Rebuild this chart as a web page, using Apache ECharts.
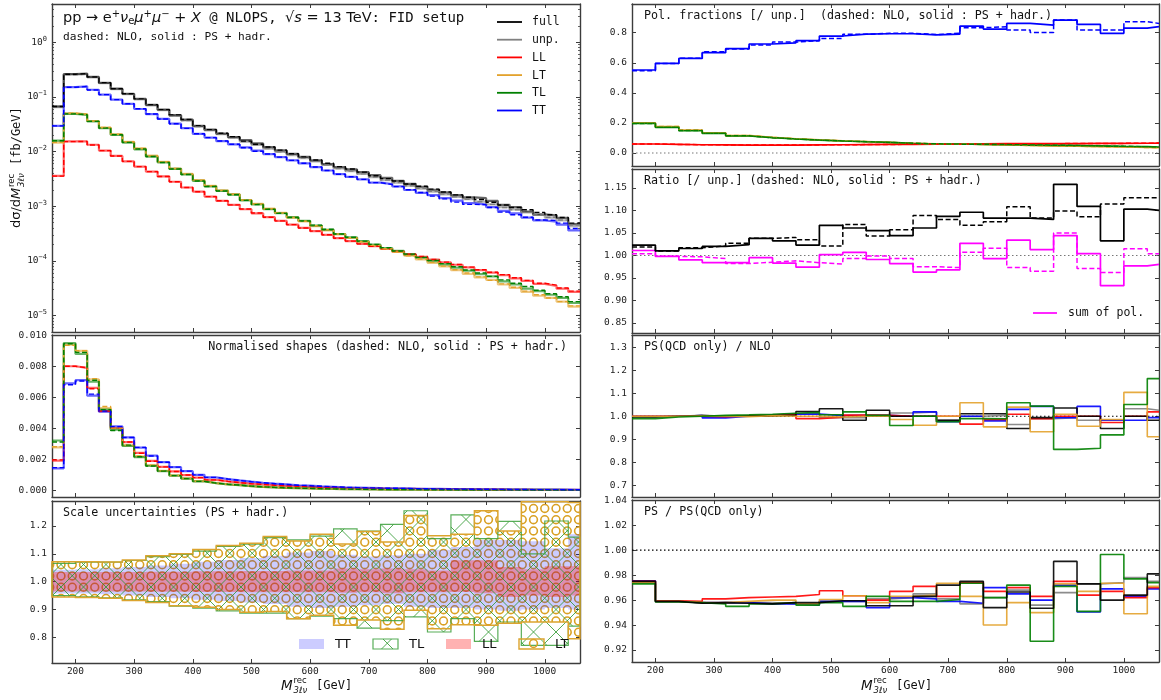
<!DOCTYPE html>
<html><head><meta charset="utf-8">
<script src="https://cdn.jsdelivr.net/npm/echarts@6/dist/echarts.min.js"></script>
<style>html,body{margin:0;padding:0;background:#fff}#c{width:1161px;height:700px}</style>
</head><body><div id="c"></div><script>
// ---------------- DATA ----------------
const fineEdges = [160,180,200,220,240,260,280,300,320,340,360,380,400,420,440,460,480,500,520,540,560,580,600,620,640,660,680,700,720,740,760,780,800,820,840,860,880,900,920,940,960,980,1000,1020,1040,1060];
const coarseEdges = [160,200,240,280,320,360,400,440,480,520,560,600,640,680,720,760,800,840,880,920,960,1000,1040,1060];
const xTicks = [200,300,400,500,600,700,800,900,1000];

// top-left: dsigma/dM (fb/GeV), solid = PS+hadr, nlo = dashed
const full = [0.067,0.262,0.267,0.232,0.181,0.141,0.114,0.092,0.0715, 0.0585,0.0465,0.0385,0.0295,0.0251,0.0213,0.0184,0.0162,0.0141, 0.0120,0.0105,0.0091,0.0080,0.0069,0.0059,0.0052,0.0047,0.0042, 0.0037,0.0033,0.00292,0.00257,0.00227,0.0020,0.00179,0.0016,0.00145, 0.0014,0.00125,0.00106,0.00096,0.0008,0.00071,0.00068,0.00061,0.00047];
const nloFull = [0.0665,0.260,0.266,0.231,0.181,0.1405,0.114,0.092,0.072, 0.0585,0.0468,0.0385,0.0298,0.0252,0.0216,0.0186,0.0155,0.0136, 0.0121,0.0106,0.0091,0.0080,0.0070,0.0061,0.0053,0.0048,0.0042, 0.0036,0.0032,0.0029,0.00255,0.00232,0.00205,0.00182,0.00161,0.00146, 0.00133,0.00118,0.00105,0.00095,0.00086,0.00077,0.0007,0.00062,0.00049];
const unp = [0.065,0.255,0.262,0.228,0.178,0.138,0.112,0.090,0.070, 0.057,0.045,0.037,0.0285,0.0243,0.0208,0.0180,0.0152,0.0132, 0.0113,0.0099,0.0086,0.0076,0.0066,0.0057,0.0049,0.0044,0.0039, 0.0034,0.0030,0.0027,0.00237,0.0021,0.00185,0.00165,0.00148,0.00134, 0.00121,0.00108,0.00096,0.00087,0.00077,0.00069,0.00062,0.00055,0.00043];
const nloUnp = [0.0655,0.254,0.261,0.227,0.177,0.138,0.112,0.0905,0.0705, 0.057,0.0452,0.037,0.0287,0.0244,0.0209,0.018,0.0153,0.0133, 0.0114,0.0099,0.0087,0.0076,0.0066,0.0057,0.0049,0.0044,0.0039, 0.0034,0.003,0.0027,0.00237,0.00212,0.00187,0.00167,0.00149,0.00134, 0.00121,0.00108,0.00095,0.00086,0.00077,0.00069,0.00063,0.00056,0.00045];
const xsTT = [0.0296,0.151,0.156,0.135,0.110,0.089,0.0745,0.060,0.0485, 0.0395,0.0325,0.0268,0.021,0.018,0.0155,0.0135,0.0119,0.0104, 0.0090,0.0079,0.0069,0.0061,0.0052,0.0045,0.00385,0.00345,0.0031, 0.0027,0.00254,0.0023,0.00198,0.00176,0.0016,0.00141,0.00126,0.00114, 0.00107,0.00096,0.00082,0.00074,0.00062,0.00055,0.00052,0.00046,0.00036];
const nloTT = [0.0295,0.150,0.155,0.134,0.110,0.089,0.075,0.0605,0.0485, 0.0393,0.0322,0.0265,0.0211,0.018,0.0156,0.0136,0.0117,0.0101, 0.009,0.0079,0.0069,0.0061,0.0052,0.0045,0.00385,0.00345,0.0031, 0.0027,0.0025,0.00228,0.002,0.00178,0.00153,0.00136,0.00119,0.00108, 0.00107,0.00095,0.00078,0.0007,0.00063,0.00056,0.00055,0.00049,0.00039];
const xsTL = [0.0159,0.049,0.047,0.0355,0.0268,0.0202,0.0146,0.0110,0.0081, 0.0063,0.0048,0.0038,0.0029,0.0023,0.0019,0.00163,0.00128,0.00108, 0.00088,0.00075,0.00063,0.00054,0.00044,0.00037,0.00031,0.00027,0.00023, 0.000198,0.000172,0.000153,0.000131,0.000114,0.000099,0.000086,0.000075,0.000066, 0.000057,0.000052,0.000042,0.000037,0.000031,0.000028,0.000024,0.000021,0.000017];
const nloTL = [0.0158,0.0488,0.047,0.0357,0.0268,0.0203,0.0147,0.0111,0.0081, 0.0063,0.0048,0.0038,0.0029,0.0023,0.0019,0.00162,0.00128,0.00107, 0.00088,0.00074,0.00062,0.00054,0.00045,0.00038,0.00031,0.00027,0.00023, 0.0002,0.000175,0.000152,0.000133,0.000116,0.000102,0.000089,0.000078,0.000068, 0.00006,0.000052,0.000045,0.000039,0.000034,0.000029,0.000025,0.000022,0.000018];
const xsLT = [0.0146,0.050,0.048,0.0362,0.0275,0.0207,0.015,0.0114,0.0084, 0.0065,0.0049,0.0039,0.003,0.00236,0.00195,0.00166,0.0013,0.0011, 0.0009,0.00076,0.00062,0.00053,0.00043,0.00036,0.000305,0.000262,0.000222, 0.00019,0.000165,0.000146,0.000125,0.000106,0.000092,0.000079,0.000068,0.000058, 0.00005,0.000045,0.000037,0.000032,0.000027,0.000023,0.000021,0.000018,0.0000145];
const nloLT = [0.0147,0.0502,0.0482,0.0363,0.0276,0.0207,0.0151,0.0114,0.0084, 0.0065,0.0049,0.0039,0.003,0.00237,0.00195,0.00165,0.0013,0.0011, 0.0009,0.00075,0.00062,0.00053,0.00044,0.00037,0.00031,0.000265,0.000225, 0.000192,0.000167,0.000145,0.000124,0.000108,0.000094,0.00008,0.000069,0.00006, 0.000051,0.000044,0.000038,0.000033,0.000028,0.000024,0.000021,0.000018,0.000015];
const xsLL = [0.00358,0.0153,0.0153,0.0133,0.0104,0.0083,0.0066,0.0053,0.0043, 0.0035,0.0028,0.0022,0.00185,0.0015,0.00125,0.00106,0.00088,0.00074, 0.00063,0.00054,0.00046,0.0004,0.00035,0.0003,0.00026,0.00023,0.000205, 0.000185,0.000165,0.000148,0.000132,0.000118,0.000106,0.000094,0.000085,0.000076, 0.000068,0.000061,0.000055,0.000048,0.000043,0.000038,0.000035,0.000031,0.000027];
const nloLL = [0.00355,0.0152,0.0153,0.0132,0.0104,0.0083,0.0066,0.0053,0.0043, 0.0035,0.0028,0.0022,0.00184,0.0015,0.00126,0.00106,0.00089,0.00075, 0.00063,0.00054,0.00046,0.0004,0.00035,0.0003,0.00026,0.00023,0.000205, 0.000185,0.000166,0.000149,0.000133,0.00012,0.000106,0.000095,0.000086,0.000077, 0.000069,0.000062,0.000056,0.000049,0.000044,0.000039,0.000036,0.000032,0.000028];

// normalised shapes
const shLL = [0.0019,0.0080,0.0079,0.0066,0.0051,0.0040,0.0031,0.0024,0.00188, 0.0015,0.0012,0.00097,0.0008,0.00066,0.00056,0.00048,0.00041,0.00036, 0.00031,0.00027,0.00024,0.00021,0.00018,0.000157,0.000136,0.00012,0.000107, 0.000097,0.000086,0.000077,0.000069,0.000062,0.000056,0.00005,0.000044,0.00004, 0.000036,0.000032,0.000029,0.000025,0.000022,0.00002,0.000018,0.000016,0.000014];
const shLLnlo = [0.00195,0.0080,0.0079,0.00655,0.0051,0.0040,0.0031,0.00238,0.00186, 0.0015,0.0012,0.00097,0.0008,0.00066,0.00056,0.00048,0.00041,0.00036, 0.00031,0.00027,0.00024,0.00021,0.00018,0.000157,0.000136,0.00012,0.000107, 0.000097,0.000086,0.000077,0.000069,0.000062,0.000056,0.00005,0.000044,0.00004, 0.000036,0.000032,0.000029,0.000025,0.000022,0.00002,0.000018,0.000016,0.000014];
const shLT = [0.00276,0.0094,0.0090,0.00715,0.0053,0.00402,0.00288,0.00218,0.0016, 0.00124,0.00094,0.00075,0.00057,0.00045,0.00037,0.00032,0.00025,0.00021, 0.00017,0.000144,0.00012,0.0001,0.000082,0.00007,0.000059,0.00005,0.000043, 0.000037,0.000032,0.000028,0.000024,0.00002,0.000018,0.000016,0.000013,0.000011, 0.00001,0.000009,0.0000075,0.0000065,0.0000055,0.0000047,0.0000043,0.0000036,0.0000029];
const shLTnlo = [0.0028,0.00935,0.0090,0.0072,0.0054,0.0040,0.0029,0.0022,0.0016, 0.00124,0.00094,0.00075,0.00057,0.00045,0.00037,0.00032,0.00025,0.00021, 0.00017,0.000144,0.00012,0.0001,0.000082,0.00007,0.000059,0.00005,0.000043, 0.000037,0.000032,0.000028,0.000024,0.00002,0.000018,0.000016,0.000013,0.000011, 0.00001,0.000009,0.0000075,0.0000065,0.0000055,0.0000047,0.0000043,0.0000036,0.0000029];
const shTL = [0.0032,0.0095,0.0088,0.0070,0.0052,0.0039,0.00285,0.00213,0.00157, 0.00122,0.00093,0.00074,0.00056,0.00045,0.00037,0.00032,0.00025,0.00021, 0.00017,0.000145,0.000122,0.000105,0.000085,0.000072,0.00006,0.000052,0.000045, 0.000038,0.000033,0.00003,0.000025,0.000022,0.000019,0.000017,0.000015,0.000013, 0.000011,0.00001,0.000008,0.000007,0.000006,0.0000054,0.0000047,0.000004,0.0000033];
const shTLnlo = [0.0031,0.00945,0.0089,0.0071,0.0052,0.00385,0.0029,0.00215,0.00155, 0.00122,0.00093,0.00074,0.00056,0.00045,0.00037,0.00032,0.00025,0.00021, 0.00017,0.000145,0.000122,0.000105,0.000085,0.000072,0.00006,0.000052,0.000045, 0.000038,0.000033,0.00003,0.000025,0.000022,0.000019,0.000017,0.000015,0.000013, 0.000011,0.00001,0.000008,0.000007,0.000006,0.0000054,0.0000047,0.000004,0.0000033];
const shTT = [0.0014,0.0069,0.0071,0.0061,0.00506,0.00412,0.0034,0.00274,0.00222, 0.0018,0.00148,0.00122,0.00098,0.00082,0.00071,0.00062,0.00054,0.00047, 0.00041,0.00036,0.00031,0.00028,0.00024,0.00021,0.000176,0.000158,0.000142, 0.000123,0.000116,0.000105,0.00009,0.00008,0.000075,0.000065,0.000058,0.000053, 0.000049,0.000044,0.000037,0.000034,0.000028,0.000025,0.000024,0.000021,0.000016];
const shTTnlo = [0.00145,0.0068,0.00705,0.0062,0.0051,0.0041,0.0034,0.00276,0.0022, 0.0018,0.00148,0.00122,0.00098,0.00082,0.00071,0.00062,0.00054,0.00047, 0.00041,0.00036,0.00031,0.00028,0.00024,0.00021,0.000176,0.000158,0.000142, 0.000123,0.000116,0.000105,0.00009,0.00008,0.000075,0.000065,0.000058,0.000053, 0.000049,0.000044,0.000037,0.000034,0.000028,0.000025,0.000024,0.000021,0.000016];

// scale uncertainty bands (40 GeV bins)
const ttHi = [1.043,1.045,1.048,1.053,1.058,1.064,1.072,1.078,1.085,1.093,1.105,1.110,1.097,1.090,1.095,1.100,1.115,1.125,1.150,1.150,1.145,1.120,1.170];
const ttLo = [0.957,0.957,0.955,0.950,0.945,0.940,0.935,0.930,0.925,0.920,0.910,0.905,0.910,0.915,0.920,0.910,0.905,0.905,0.900,0.895,0.900,0.905,0.900];
const llHi = [1.035,1.035,1.035,1.035,1.036,1.036,1.037,1.037,1.038,1.038,1.040,1.040,1.047,1.045,1.047,1.045,1.040,1.077,1.077,1.053,1.045,1.055,1.055];
const llLo = [0.965,0.965,0.965,0.965,0.964,0.964,0.963,0.963,0.962,0.962,0.962,0.962,0.960,0.962,0.958,0.962,0.962,0.963,0.958,0.945,0.950,0.945,0.950];
const tlHi = [1.066,1.070,1.070,1.076,1.090,1.098,1.110,1.127,1.135,1.158,1.150,1.164,1.190,1.182,1.206,1.255,1.155,1.240,1.155,1.217,1.100,1.218,1.160];
const tlLo = [0.950,0.945,0.942,0.935,0.928,0.912,0.905,0.895,0.887,0.887,0.867,0.876,0.867,0.833,0.860,0.873,0.819,0.867,0.785,0.855,0.771,0.771,0.840];
const ltHi = [1.072,1.072,1.071,1.078,1.093,1.100,1.116,1.130,1.138,1.162,1.146,1.170,1.135,1.180,1.143,1.238,1.165,1.170,1.255,1.182,1.287,1.287,1.285];
const ltLo = [0.945,0.943,0.940,0.932,0.925,0.913,0.908,0.900,0.890,0.893,0.867,0.879,0.843,0.862,0.829,0.897,0.831,0.845,0.843,0.850,0.855,0.855,0.795];

// polarisation fractions
const polTT = [0.552,0.596,0.629,0.667,0.694,0.725,0.733,0.747,0.778,0.791,0.793,0.793,0.786,0.791,0.844,0.824,0.862,0.851,0.884,0.855,0.796,0.831,0.840];
const polTTnlo = [0.547,0.596,0.631,0.674,0.692,0.718,0.738,0.747,0.762,0.789,0.796,0.796,0.788,0.796,0.833,0.840,0.818,0.802,0.884,0.818,0.818,0.873,0.862];
const polLT = [0.200,0.175,0.152,0.134,0.116,0.104,0.095,0.088,0.081,0.076,0.071,0.065,0.061,0.060,0.057,0.054,0.051,0.048,0.046,0.043,0.040,0.037,0.035];
const polLTnlo = [0.198,0.176,0.153,0.133,0.117,0.104,0.095,0.087,0.081,0.076,0.070,0.065,0.061,0.059,0.057,0.053,0.050,0.048,0.045,0.043,0.040,0.037,0.034];
const polTL = [0.197,0.171,0.148,0.131,0.113,0.102,0.093,0.086,0.080,0.075,0.071,0.064,0.060,0.060,0.058,0.055,0.053,0.051,0.049,0.047,0.044,0.042,0.040];
const polTLnlo = [0.196,0.172,0.149,0.131,0.114,0.102,0.093,0.086,0.080,0.075,0.070,0.065,0.061,0.059,0.058,0.056,0.054,0.052,0.050,0.046,0.045,0.041,0.040];
const polLL = [0.060,0.058,0.055,0.054,0.053,0.053,0.053,0.054,0.055,0.056,0.057,0.058,0.059,0.060,0.061,0.062,0.062,0.063,0.062,0.064,0.064,0.065,0.066];
const polLLnlo = [0.060,0.057,0.055,0.054,0.053,0.053,0.053,0.054,0.055,0.056,0.057,0.058,0.059,0.059,0.060,0.061,0.062,0.062,0.063,0.063,0.064,0.065,0.066];

// ratio to unpolarised
const ratFull = [1.023,1.010,1.0155,1.020,1.024,1.038,1.0325,1.023,1.067,1.061,1.055,1.044,1.061,1.087,1.096,1.083,1.083,1.080,1.158,1.109,1.0325,1.103,1.100];
const ratFullNlo = [1.019,1.010,1.017,1.021,1.027,1.038,1.040,1.035,1.021,1.069,1.043,1.057,1.089,1.080,1.067,1.075,1.108,1.083,1.099,1.086,1.114,1.128,1.128];
const ratSum = [1.011,0.998,0.990,0.984,0.984,0.995,0.983,0.974,1.002,1.007,0.991,0.982,0.963,0.968,1.027,0.993,1.034,1.013,1.044,1.004,0.933,0.977,0.980];
const ratSumNlo = [1.004,0.998,0.997,0.993,0.982,0.985,0.988,0.984,0.981,0.993,0.999,0.993,0.975,0.973,1.007,1.016,0.973,0.965,1.050,0.971,0.962,1.015,1.004];

// PS(QCD only) / NLO
const qFull = [0.997,1.000,1.003,1.000,1.000,1.002,1.005,1.021,1.033,0.983,1.026,1.000,1.000,0.983,1.011,1.011,0.947,0.994,1.036,1.000,0.947,1.000,0.983];
const qUnp = [0.998,1.000,1.004,1.000,1.003,1.005,1.012,1.013,0.994,0.994,1.004,1.014,1.019,0.983,1.000,1.004,0.964,0.990,0.994,0.983,0.986,1.033,1.026];
const qLL = [1.000,1.000,1.000,0.998,1.002,1.004,1.008,0.990,0.996,1.005,1.004,1.000,1.000,1.000,0.966,0.986,1.009,0.989,1.000,1.000,0.973,1.000,1.019];
const qLT = [1.000,1.000,1.001,1.000,0.998,1.003,1.000,1.000,0.997,1.000,1.000,0.986,0.961,1.000,1.059,0.954,1.040,0.933,1.009,0.957,0.986,1.104,0.911];
const qTL = [0.990,0.997,1.000,1.004,1.006,1.009,1.013,1.017,1.007,1.019,1.004,0.960,1.000,0.976,0.990,0.989,1.059,1.044,0.856,0.861,0.919,1.051,1.164];
const qTT = [1.000,1.000,1.003,0.993,1.000,1.005,1.009,1.010,1.003,1.004,1.004,1.000,1.019,0.976,1.000,0.980,1.030,1.043,0.994,1.043,0.983,0.983,0.994];

// PS / PS(QCD only)
const pFull = [0.975,0.959,0.9575,0.958,0.9575,0.957,0.958,0.958,0.9595,0.9595,0.9555,0.9555,0.963,0.972,0.975,0.954,0.9665,0.9535,0.991,0.973,0.960,0.964,0.981];
const pUnp = [0.975,0.959,0.958,0.958,0.958,0.958,0.957,0.957,0.959,0.959,0.961,0.962,0.965,0.961,0.957,0.962,0.968,0.956,0.966,0.973,0.974,0.978,0.975];
const pLL = [0.975,0.9595,0.959,0.961,0.962,0.9625,0.963,0.9645,0.9675,0.9635,0.960,0.967,0.971,0.963,0.974,0.967,0.970,0.963,0.975,0.964,0.967,0.962,0.970];
const pLT = [0.974,0.959,0.958,0.958,0.959,0.960,0.960,0.957,0.9605,0.9635,0.958,0.963,0.964,0.9735,0.963,0.940,0.958,0.950,0.973,0.967,0.9735,0.949,0.971];
const pTL = [0.973,0.9585,0.958,0.957,0.955,0.957,0.958,0.956,0.958,0.955,0.963,0.959,0.959,0.9605,0.9735,0.962,0.972,0.927,0.971,0.951,0.9965,0.977,0.974];
const pTT = [0.9755,0.959,0.958,0.958,0.958,0.957,0.957,0.956,0.959,0.959,0.954,0.962,0.961,0.959,0.9575,0.970,0.965,0.960,0.972,0.9505,0.969,0.963,0.969];

const refZero = 0, refOne = 1;

// ---------------- STYLE ----------------
const MONO = 'DejaVu Sans Mono', SANS = 'DejaVu Sans';
const FRAME = '#3c3c3c';
const C = {full:'#000000', unp:'#808080', LL:'#ff0000', LT:'#e3a22c', TL:'#008000', TT:'#0000ff', sum:'#ff00ff'};
const HATCH_O = '#d9a124', HATCH_X = 'rgba(40,150,40,0.8)';
const EDGE_TL = 'rgba(60,160,60,0.85)', EDGE_LT = '#dca42e';
const FILL_TT = 'rgba(0,0,255,0.2)', FILL_LL = 'rgba(255,0,0,0.3)';
const PITCH = 11.25, OX = 4.75, OY = 2.2, RAD = 3.9;

const grids = [
  {left:52, top:4, width:528, height:328},
  {left:52, top:335, width:528, height:162},
  {left:52, top:501, width:528, height:162},
  {left:632, top:4, width:527, height:162},
  {left:632, top:169, width:527, height:164},
  {left:632, top:335, width:527, height:162},
  {left:632, top:500, width:527, height:162}
].map(g => Object.assign({containLabel:false, outerBoundsMode:'none', show:false}, g));

const yCfg = [
  {type:'log', min:5e-6, max:5},
  {min:-0.00045, max:0.01002, ticks:[0,0.002,0.004,0.006,0.008,0.010], dec:3},
  {min:0.7075, max:1.29, ticks:[0.8,0.9,1.0,1.1,1.2], dec:1},
  {min:-0.0864, max:0.991, ticks:[0,0.2,0.4,0.6,0.8], dec:1},
  {min:0.8278, max:1.192, ticks:[0.85,0.9,0.95,1.0,1.05,1.1,1.15], dec:2},
  {min:0.649, max:1.3535, ticks:[0.7,0.8,0.9,1.0,1.1,1.2,1.3], dec:1},
  {min:0.9104, max:1.0402, ticks:[0.92,0.94,0.96,0.98,1.0,1.02,1.04], dec:2}
];
const lblStyle = {fontFamily:MONO, fontSize:9.5, color:'#222'};

function xAx(g,pos,show){ return {type:'value', gridIndex:g, position:pos, min:160, max:1060,
  axisLine:{show:true,onZero:false,lineStyle:{color:FRAME,width:1.4}},
  axisTick:{show:true,inside:true,length:4,customValues:xTicks,lineStyle:{color:FRAME,width:1}},
  axisLabel:Object.assign({show:show,customValues:xTicks,margin:4,formatter:v=>String(Math.round(v))},lblStyle),
  splitLine:{show:false}}; }
function supExp(v){ const e=Math.log10(v), r=Math.round(e); if(Math.abs(e-r)>1e-6) return '';
  return '10{s|'+(r<0?'\u2212'+(-r):r)+'}'; }
function yAx(g,pos,show){ const c=yCfg[g];
  const ax = {type:c.type||'value', gridIndex:g, position:pos, min:c.min, max:c.max,
    axisLine:{show:true,onZero:false,lineStyle:{color:FRAME,width:1.4}},
    axisTick:{show:true,inside:true,length:4,lineStyle:{color:FRAME,width:1}},
    axisLabel:Object.assign({show:show,margin:5},lblStyle), splitLine:{show:false}};
  if(c.type==='log'){ ax.logBase=10; ax.axisLabel.formatter=supExp; ax.axisLabel.showMinLabel=false; ax.axisLabel.showMaxLabel=false;
    ax.axisLabel.rich={s:{fontFamily:MONO,fontSize:7,padding:[0,0,7,0],color:'#222'}}; }
  else { ax.axisTick.customValues=c.ticks; ax.axisLabel.customValues=c.ticks; ax.axisLabel.formatter=v=>v.toFixed(c.dec); }
  return ax; }

const xAxes=[], yAxes=[];
for(let g=0;g<7;g++){ xAxes.push(xAx(g,'bottom',g===2||g===6)); xAxes.push(xAx(g,'top',false));
  yAxes.push(yAx(g,'left',true)); yAxes.push(yAx(g,'right',false)); }
const minorVals=[]; for(let e=-6;e<=0;e++) for(let m=2;m<=9;m++){ const v=m*Math.pow(10,e); if(v>5e-6&&v<5) minorVals.push(v); }
['left','right'].forEach(p=>yAxes.push({type:'log',logBase:10,gridIndex:0,position:p,min:5e-6,max:5,
  axisLine:{show:false,onZero:false},axisLabel:{show:false},splitLine:{show:false},
  axisTick:{show:true,inside:true,length:2,customValues:minorVals,lineStyle:{color:FRAME,width:0.8}}}));

function steps(edges, vals){ const d=vals.map((v,i)=>[edges[i],v]); d.push([edges[vals.length],vals[vals.length-1]]); return d; }
function line(g, edges, vals, color, dashed, width, opacity, z){
  return {type:'line', xAxisIndex:2*g, yAxisIndex:2*g, data:steps(edges,vals), step:'end', symbol:'none', silent:true,
    animation:false, z:z||2, lineStyle:{color, width, opacity:opacity==null?1:opacity, type: dashed?[5,2.6]:'solid', cap:'butt'}}; }
function ref(g, y, color, dash){ return {type:'line', xAxisIndex:2*g, yAxisIndex:2*g, data:[[160,y],[1060,y]], symbol:'none', silent:true, animation:false, z:1,
  lineStyle:{color, width:1.1, type:dash}}; }

// ---- hatching helpers (pixel space) ----
function crossLines(r){ const [x0,x1,y0,y1]=r, P=22.5, A=14, B=18, out=[];
  for(let a=Math.ceil((x0-y1-A)/P)*P+A; a<=x1-y0; a+=P){ const xs=Math.max(x0,y0+a), xe=Math.min(x1,y1+a); if(xe>xs) out.push([xs,xs-a,xe,xe-a]); }
  for(let b=Math.ceil((x0+y0-B)/P)*P+B; b<=x1+y1; b+=P){ const xs=Math.max(x0,b-y1), xe=Math.min(x1,b-y0); if(xe>xs) out.push([xs,b-xs,xe,b-xe]); }
  return out; }
function circleCenters(rects, pad){ let X0=1e9,X1=-1e9,Y0=1e9,Y1=-1e9;
  rects.forEach(r=>{X0=Math.min(X0,r[0]);X1=Math.max(X1,r[1]);Y0=Math.min(Y0,r[2]);Y1=Math.max(Y1,r[3]);});
  const out=[];
  for(let cx=Math.ceil((X0-pad-OX)/PITCH)*PITCH+OX; cx<=X1+pad; cx+=PITCH)
    for(let cy=Math.ceil((Y0-pad-OY)/PITCH)*PITCH+OY; cy<=Y1+pad; cy+=PITCH)
      if(rects.some(r=>cx>=r[0]-pad && cx<=r[1]+pad && cy>=r[2]-pad && cy<=r[3]+pad)) out.push([cx,cy]);
  return out; }

function bandPts(api, lo, hi){ const e=coarseEdges, pts=[];
  for(let i=0;i<hi.length;i++){ pts.push(api.coord([e[i],hi[i]])); pts.push(api.coord([e[i+1],hi[i]])); }
  for(let i=lo.length-1;i>=0;i--){ pts.push(api.coord([e[i+1],lo[i]])); pts.push(api.coord([e[i],lo[i]])); }
  return pts; }
function bandRects(api, lo, hi){ const e=coarseEdges;
  return hi.map((h,i)=>{ const a=api.coord([e[i],h]), b=api.coord([e[i+1],lo[i]]); return [a[0],b[0],a[1],b[1]]; }); }
const bandSeries = {type:'custom', xAxisIndex:4, yAxisIndex:4, data:[[coarseEdges[0],1]], silent:true, animation:false, z:2,
  renderItem(params, api){
    const ch=[];
    ch.push({type:'polygon', z2:1, shape:{points:bandPts(api,ttLo,ttHi)}, style:{fill:FILL_TT}});
    ch.push({type:'polygon', z2:2, shape:{points:bandPts(api,llLo,llHi)}, style:{fill:FILL_LL}});
    bandRects(api,tlLo,tlHi).forEach(r=>crossLines(r).forEach(s=>ch.push({type:'line', z2:3, shape:{x1:s[0],y1:s[1],x2:s[2],y2:s[3]}, style:{stroke:HATCH_X, lineWidth:1}})));
    const circles=circleCenters(bandRects(api,ltLo,ltHi),RAD).map(c=>({type:'circle', shape:{cx:c[0],cy:c[1],r:RAD}, style:{fill:null, stroke:HATCH_O, lineWidth:1.6}}));
    ch.push({type:'group', z2:4, children:circles, clipPath:{type:'polygon', shape:{points:bandPts(api,ltLo,ltHi)}}});
    ch.push({type:'polygon', z2:5, shape:{points:bandPts(api,tlLo,tlHi)}, style:{fill:null, stroke:EDGE_TL, lineWidth:1.2}});
    ch.push({type:'polygon', z2:6, shape:{points:bandPts(api,ltLo,ltHi)}, style:{fill:null, stroke:EDGE_LT, lineWidth:1.5}});
    return {type:'group', children:ch}; }};

const series=[];
[[unp,nloUnp,C.unp],[full,nloFull,C.full],[xsLL,nloLL,C.LL],[xsLT,nloLT,C.LT],[xsTL,nloTL,C.TL],[xsTT,nloTT,C.TT]].forEach((s,i)=>{
  series.push(line(0,fineEdges,s[0],s[2],false,2.2,0.6,2+i)); series.push(line(0,fineEdges,s[1],s[2],true,1.4,1,10+i)); });
[[shLL,shLLnlo,C.LL],[shLT,shLTnlo,C.LT],[shTL,shTLnlo,C.TL],[shTT,shTTnlo,C.TT]].forEach((s,i)=>{
  series.push(line(1,fineEdges,s[0],s[2],false,2.2,0.6,2+i)); series.push(line(1,fineEdges,s[1],s[2],true,1.4,1,10+i)); });
series.push(bandSeries);
series.push(ref(3,refZero,'#777',[1.5,2.5]));
[[polLL,polLLnlo,C.LL],[polLT,polLTnlo,C.LT],[polTL,polTLnlo,C.TL],[polTT,polTTnlo,C.TT]].forEach((s,i)=>{
  series.push(line(3,coarseEdges,s[0],s[2],false,1.7,1,2+i)); series.push(line(3,coarseEdges,s[1],s[2],true,1.5,1,10+i)); });
series.push(ref(4,refOne,'#777',[1.5,2.5]));
[[ratSum,ratSumNlo,C.sum],[ratFull,ratFullNlo,C.full]].forEach((s,i)=>{
  series.push(line(4,coarseEdges,s[0],s[2],false,1.7,1,2+i)); series.push(line(4,coarseEdges,s[1],s[2],true,1.5,1,10+i)); });
series.push(ref(5,refOne,'#000',[1.5,2.5]));
[[qUnp,C.unp],[qTT,C.TT],[qLL,C.LL],[qFull,C.full],[qLT,C.LT],[qTL,C.TL]].forEach((s,i)=>series.push(line(5,coarseEdges,s[0],s[1],false,1.6,0.9,2+i)));
series.push(ref(6,refOne,'#000',[1.5,2.5]));
[[pUnp,C.unp],[pTT,C.TT],[pLL,C.LL],[pLT,C.LT],[pTL,C.TL],[pFull,C.full]].forEach((s,i)=>series.push(line(6,coarseEdges,s[0],s[1],false,1.6,0.9,2+i)));

// ---------------- TEXT / LEGENDS ----------------
function txt(x,y,text,size,family,extra){ return {type:'text', x, y, z:50, silent:true,
  style:Object.assign({text, fontSize:size, fontFamily:family||MONO, fill:'#111', verticalAlign:'middle', align:'left'}, extra||{})}; }
const G=[];
G.push(txt(63,18,'{n|pp \u2192 e}{sp|+}{i|\u03bd}{sb|e}{i|\u03bc}{sp|+}{i|\u03bc}{sp|\u2212}{n| + }{i|X}{m| @ NLOPS, }{n|\u221a}{i|s}{n| = 13 TeV}{m|: FID setup}',14,SANS,{
  rich:{n:{fontFamily:SANS,fontSize:14.5,fill:'#111'}, i:{fontFamily:SANS,fontStyle:'italic',fontSize:14.5,fill:'#111'}, m:{fontFamily:MONO,fontSize:14,fill:'#111'},
        sp:{fontFamily:SANS,fontSize:10,padding:[0,0,8,0],fill:'#111'}, sb:{fontFamily:SANS,fontSize:10,padding:[7,0,0,0],fill:'#111'}}}));
G.push(txt(63,37,'dashed: NLO, solid : PS + hadr.',11.2));
const legItems=[['full',C.full],['unp.',C.unp],['LL',C.LL],['LT',C.LT],['TL',C.TL],['TT',C.TT]];
legItems.forEach((it,i)=>{ const y=22+i*17.7;
  G.push({type:'line', z:50, silent:true, shape:{x1:497,y1:y,x2:522,y2:y}, style:{stroke:it[1],lineWidth:1.8}});
  G.push(txt(532,y+0.5,it[0],11.5)); });
G.push(txt(567,347,'Normalised shapes (dashed: NLO, solid : PS + hadr.)',11.7,MONO,{align:'right'}));
G.push(txt(63,513,'Scale uncertainties (PS + hadr.)',11.7));
G.push(txt(644,16,'Pol. fractions [/ unp.]  (dashed: NLO, solid : PS + hadr.)',11.7));
G.push(txt(644,181,'Ratio [/ unp.] (dashed: NLO, solid : PS + hadr.)',11.7));
G.push(txt(644,347,'PS(QCD only) / NLO',11.7));
G.push(txt(644,512,'PS / PS(QCD only)',11.7));
G.push({type:'line', z:50, silent:true, shape:{x1:1033,y1:313,x2:1057,y2:313}, style:{stroke:C.sum,lineWidth:1.7}});
G.push(txt(1068,313,'sum of pol.',11.5));
// scale-band legend (swatches drawn with the same hatching)
const SW_Y0=639, SW_Y1=649, SW_W=25;
const swatchX = {TT:299, TL:373, LL:446, LT:519};
G.push({type:'rect', z:50, silent:true, shape:{x:swatchX.TT,y:SW_Y0,width:SW_W,height:SW_Y1-SW_Y0}, style:{fill:FILL_TT}});
G.push({type:'rect', z:50, silent:true, shape:{x:swatchX.LL,y:SW_Y0,width:SW_W,height:SW_Y1-SW_Y0}, style:{fill:FILL_LL}});
crossLines([swatchX.TL,swatchX.TL+SW_W,SW_Y0,SW_Y1]).forEach(s=>G.push({type:'line', z:50, silent:true, shape:{x1:s[0],y1:s[1],x2:s[2],y2:s[3]}, style:{stroke:HATCH_X,lineWidth:1}}));
G.push({type:'rect', z:51, silent:true, shape:{x:swatchX.TL,y:SW_Y0,width:SW_W,height:SW_Y1-SW_Y0}, style:{fill:null,stroke:EDGE_TL,lineWidth:1.2}});
circleCenters([[swatchX.LT+RAD,swatchX.LT+SW_W-RAD,SW_Y0+RAD-1,SW_Y1-RAD+1]],0).forEach(c=>G.push({type:'circle', z:50, silent:true, shape:{cx:c[0],cy:c[1],r:RAD}, style:{fill:null,stroke:HATCH_O,lineWidth:1.6}}));
G.push({type:'rect', z:51, silent:true, shape:{x:swatchX.LT,y:SW_Y0,width:SW_W,height:SW_Y1-SW_Y0}, style:{fill:null,stroke:EDGE_LT,lineWidth:1.4}});
Object.keys(swatchX).forEach(k=>G.push(txt(swatchX[k]+36,644.5,k,13,SANS)));
function xTitle(x0){ return [txt(x0,686,'M',13.5,SANS,{fontStyle:'italic'}), txt(x0+12.5,680.5,'rec',8.5,SANS),
  txt(x0+12.5,690.5,'3\u2113\u03bd',8.5,SANS,{fontStyle:'italic'}), txt(x0+35,686,'[GeV]',12,MONO)]; }
xTitle(281).concat(xTitle(861)).forEach(e=>G.push(e));
G.push({type:'group', x:17, y:169, rotation:Math.PI/2, silent:true, z:50, children:[
  {type:'text', x:-59, y:0, style:{text:'d\u03c3/d', fontFamily:SANS, fontSize:13, fill:'#111', verticalAlign:'middle'}},
  {type:'text', x:-30, y:0, style:{text:'M', fontFamily:SANS, fontStyle:'italic', fontSize:13, fill:'#111', verticalAlign:'middle'}},
  {type:'text', x:-18, y:-5, style:{text:'rec', fontFamily:SANS, fontSize:8.5, fill:'#111', verticalAlign:'middle'}},
  {type:'text', x:-18, y:5, style:{text:'3\u2113\u03bd', fontFamily:SANS, fontStyle:'italic', fontSize:8.5, fill:'#111', verticalAlign:'middle'}},
  {type:'text', x:4, y:0, style:{text:'[fb/GeV]', fontFamily:MONO, fontSize:12, fill:'#111', verticalAlign:'middle'}}
]});

const chart = echarts.init(document.getElementById('c'), null, {renderer:'canvas'});
chart.setOption({animation:false, backgroundColor:'#fff', textStyle:{fontFamily:MONO},
  grid:grids, xAxis:xAxes, yAxis:yAxes, series, graphic:G});
</script></body></html>
